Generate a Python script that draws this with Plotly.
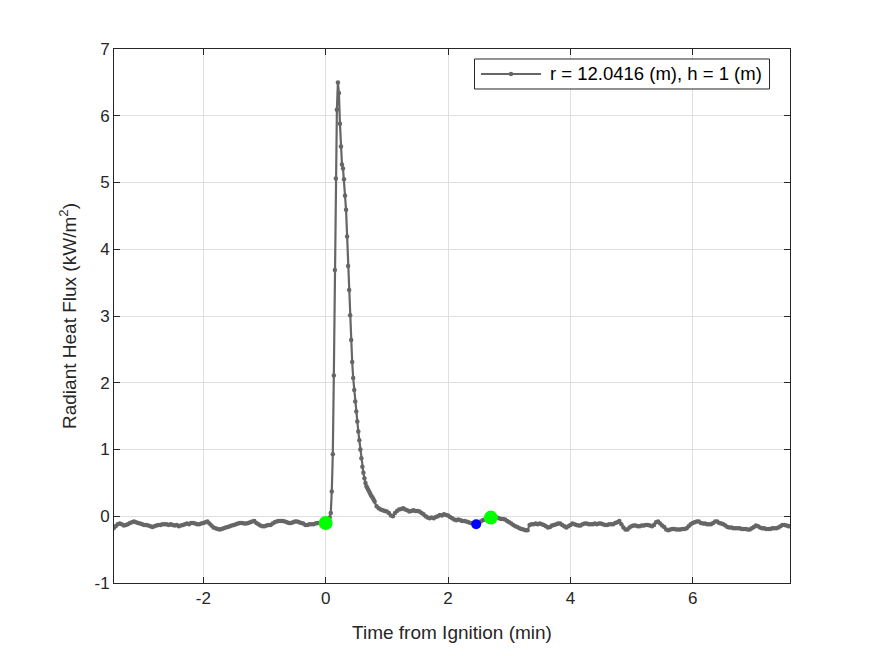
import numpy as np
import plotly.graph_objects as go

# ---- data (minutes from ignition, kW/m^2) ----
# pre-ignition samples, every 2 s, ending just before t = 0
pre_flux = [
    -0.18, -0.15, -0.12, -0.11, -0.12, -0.14, -0.13, -0.12, -0.10, -0.09,
    -0.08, -0.09, -0.10, -0.11, -0.12, -0.13, -0.13, -0.14, -0.15, -0.16,
    -0.15, -0.14, -0.13, -0.13, -0.12, -0.12, -0.12, -0.13, -0.12, -0.13,
    -0.14, -0.13, -0.15, -0.14, -0.13, -0.12, -0.11, -0.12, -0.10, -0.10,
    -0.11, -0.12, -0.12, -0.11, -0.10, -0.09, -0.08, -0.11, -0.14, -0.17,
    -0.18, -0.19, -0.20, -0.19, -0.18, -0.17, -0.16, -0.15, -0.14, -0.13,
    -0.12, -0.11, -0.10, -0.10, -0.11, -0.11, -0.10, -0.09, -0.08, -0.07,
    -0.10, -0.12, -0.14, -0.15, -0.15, -0.14, -0.13, -0.13, -0.11, -0.09,
    -0.08, -0.07, -0.07, -0.07, -0.08, -0.09, -0.10, -0.10, -0.09, -0.08,
    -0.08, -0.09, -0.10, -0.11, -0.13, -0.13, -0.12, -0.12, -0.12, -0.11,
    -0.10, -0.10, -0.11, -0.10,
]
# ignition segment, every 1 s from t = 0
peak_flux = [
    -0.10, -0.09, -0.08, -0.06, -0.02, 0.05, 0.37, 0.93, 2.11, 3.69,
    5.06, 6.09, 6.50, 6.34, 5.88, 5.54, 5.27, 5.21, 5.05, 4.80,
    4.59, 4.19, 3.75, 3.39, 3.01, 2.64, 2.31, 2.07, 1.89, 1.72,
    1.57, 1.42, 1.27, 1.14, 1.00, 0.87, 0.74, 0.65, 0.57, 0.50,
    0.45, 0.42, 0.39, 0.36, 0.33, 0.30, 0.28, 0.25,
]
# post segment, every 2 s from t = 0.8 min
post_start = 0.8
post_flux = [
    0.22, 0.15, 0.12, 0.10, 0.09, 0.08, 0.07, 0.05, 0.01, 0.00,
    0.05, 0.08, 0.10, 0.11, 0.12, 0.10, 0.09, 0.07, 0.08, 0.09,
    0.08, 0.08, 0.07, 0.05, 0.03, 0.00, -0.02, -0.03, -0.02, -0.03,
    -0.01, 0.00, 0.02, 0.01, 0.03, 0.02, 0.01, -0.01, -0.03, -0.05,
    -0.06, -0.05, -0.06, -0.07, -0.07, -0.08, -0.09, -0.10, -0.10, -0.11,
    -0.12, -0.10, -0.08, -0.06, -0.05, -0.04, -0.03, -0.02, -0.02, -0.03,
    -0.02, -0.03, -0.04, -0.04, -0.05, -0.07, -0.09, -0.11, -0.13, -0.15,
    -0.16, -0.18, -0.19, -0.20, -0.21, -0.21, -0.13, -0.12, -0.12, -0.11,
    -0.12, -0.11, -0.12, -0.13, -0.15, -0.17, -0.16, -0.14, -0.13, -0.12,
    -0.11, -0.11, -0.13, -0.15, -0.17, -0.15, -0.13, -0.11, -0.12, -0.13,
    -0.14, -0.14, -0.12, -0.11, -0.11, -0.12, -0.12, -0.12, -0.11, -0.12,
    -0.11, -0.11, -0.12, -0.13, -0.13, -0.12, -0.12, -0.12, -0.10, -0.09,
    -0.07, -0.12, -0.17, -0.20, -0.20, -0.17, -0.15, -0.14, -0.14, -0.15,
    -0.15, -0.14, -0.14, -0.13, -0.13, -0.14, -0.15, -0.13, -0.09, -0.08,
    -0.11, -0.14, -0.16, -0.20, -0.21, -0.20, -0.19, -0.19, -0.20, -0.20,
    -0.20, -0.19, -0.19, -0.18, -0.15, -0.12, -0.10, -0.09, -0.08, -0.08,
    -0.10, -0.11, -0.11, -0.12, -0.12, -0.12, -0.10, -0.08, -0.08, -0.10,
    -0.11, -0.12, -0.14, -0.16, -0.17, -0.17, -0.18, -0.18, -0.18, -0.18,
    -0.19, -0.19, -0.19, -0.20, -0.20, -0.18, -0.16, -0.14, -0.15, -0.17,
    -0.18, -0.18, -0.19, -0.19, -0.19, -0.18, -0.18, -0.18, -0.17, -0.15,
    -0.13, -0.13, -0.14, -0.15, -0.14,
]
# highlighted events
green_t = [0.0, 2.70]
green_flux = [-0.10, -0.02]
blue_t = [2.46]
blue_flux = [-0.12]

series_name = "r = 12.0416 (m), h = 1 (m)"
x_range = [-3.46, 7.59]
y_range = [-1, 7]
x_ticks = [-2, 0, 2, 4, 6]
y_ticks = [-1, 0, 1, 2, 3, 4, 5, 6, 7]

# ---- assemble sample clock ----
pre_t = -np.arange(len(pre_flux), 0, -1) / 30.0
peak_t = np.arange(len(peak_flux)) / 60.0
post_t = post_start + np.arange(len(post_flux)) / 30.0
t = np.concatenate([pre_t, peak_t, post_t])
q = np.concatenate([pre_flux, peak_flux, post_flux])

FONT = "Liberation Sans, Arial, Helvetica, sans-serif"
AX = "#262626"
GRID = "#dfdfdf"
LINE = "#666666"

fig = go.Figure()
fig.add_trace(go.Scatter(
    x=t, y=q, mode="lines+markers", name=series_name, showlegend=False,
    line=dict(color=LINE, width=2.2),
    marker=dict(color=LINE, size=4.5),
))
fig.add_trace(go.Scatter(
    x=blue_t, y=blue_flux, mode="markers", showlegend=False,
    marker=dict(color="#0000ff", size=10),
))
fig.add_trace(go.Scatter(
    x=green_t, y=green_flux, mode="markers", showlegend=False,
    marker=dict(color="#00ff00", size=14),
))

axis_common = dict(
    showline=True, linecolor=AX, linewidth=1, mirror="ticks",
    ticks="inside", ticklen=6, tickwidth=1, tickcolor=AX,
    showgrid=True, gridcolor=GRID, gridwidth=1, zeroline=False,
    tickfont=dict(family=FONT, size=17, color=AX),
)

# ---- legend box (MATLAB style), placed in plot-area fractions ----
leg_box = dict(x0=0.5333, x1=0.9697, y0=0.9251, y1=0.9813)
leg_line = dict(x0=0.5429, x1=0.6317, y=0.9532)
leg_text_x = 0.642
shapes = [
    dict(type="rect", xref="paper", yref="paper", **leg_box,
         line=dict(color=AX, width=1), fillcolor="white", layer="above"),
    dict(type="line", xref="paper", yref="paper",
         x0=leg_line["x0"], x1=leg_line["x1"], y0=leg_line["y"], y1=leg_line["y"],
         line=dict(color=LINE, width=2), layer="above"),
    dict(type="circle", xref="paper", yref="paper",
         x0=(leg_line["x0"] + leg_line["x1"]) / 2 - 0.0033,
         x1=(leg_line["x0"] + leg_line["x1"]) / 2 + 0.0033,
         y0=leg_line["y"] - 0.0042, y1=leg_line["y"] + 0.0042,
         line=dict(width=0), fillcolor=LINE, layer="above"),
]
annotations = [
    dict(xref="paper", yref="paper", x=leg_text_x, y=leg_line["y"],
         xanchor="left", yanchor="middle", text=series_name, showarrow=False,
         font=dict(family=FONT, size=18.5, color="#000000")),
]

fig.update_layout(
    width=875, height=656,
    paper_bgcolor="white", plot_bgcolor="white",
    margin=dict(l=114, r=85, t=49, b=73),
    font=dict(family=FONT, color=AX),
    xaxis=dict(range=x_range, tickvals=x_ticks,
               ticktext=[str(v) for v in x_ticks], **axis_common,
               title=dict(text="Time from Ignition (min)",
                          font=dict(family=FONT, size=19, color=AX), standoff=18)),
    yaxis=dict(range=y_range, tickvals=y_ticks,
               ticktext=[str(v) for v in y_ticks], **axis_common,
               title=dict(text="Radiant Heat Flux (kW/m<sup>2</sup>)",
                          font=dict(family=FONT, size=19, color=AX), standoff=12)),
    shapes=shapes,
    annotations=annotations,
    showlegend=False,
)

fig.write_html("out.html")
